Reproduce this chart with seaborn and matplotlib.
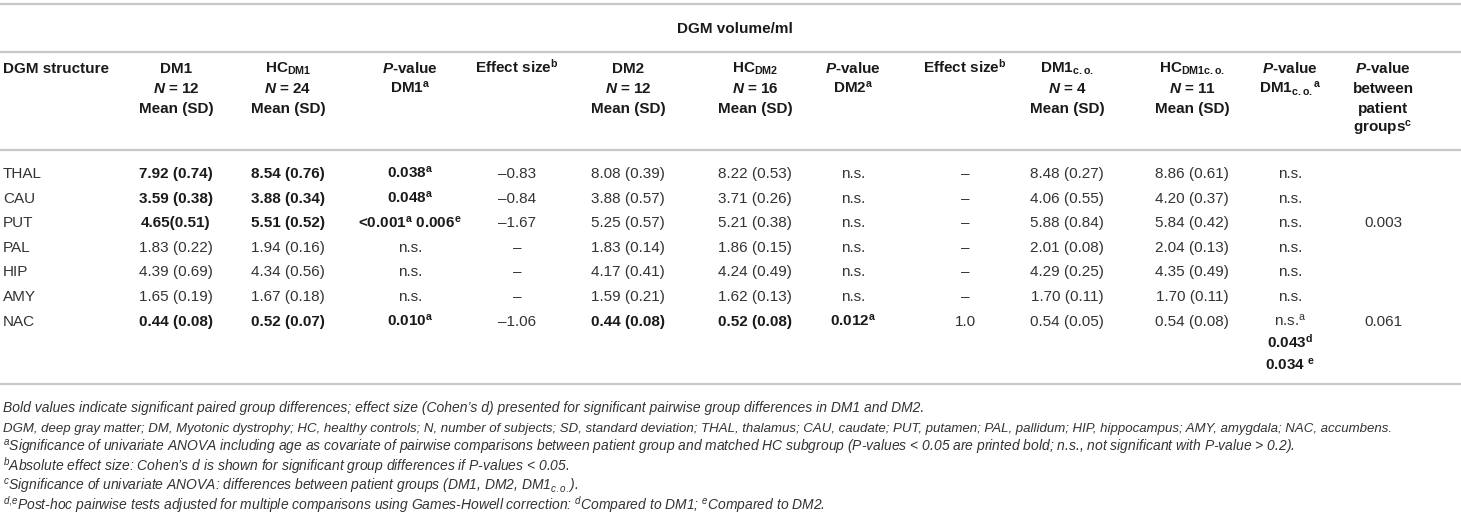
import re
import matplotlib
matplotlib.use("Agg")
import matplotlib.pyplot as plt
import seaborn as sns

# table values
structures = ["THAL", "CAU", "PUT", "PAL", "HIP", "AMY", "NAC"]

dm1_mean = [7.92, 3.59, 4.65, 1.83, 4.39, 1.65, 0.44]
dm1_sd = [0.74, 0.38, 0.51, 0.22, 0.69, 0.19, 0.08]
hc_dm1_mean = [8.54, 3.88, 5.51, 1.94, 4.34, 1.67, 0.52]
hc_dm1_sd = [0.76, 0.34, 0.52, 0.16, 0.56, 0.18, 0.07]
p_dm1 = ["0.038^{a}", "0.048^{a}", "<0.001^{a} 0.006^{e}", "n.s.", "n.s.", "n.s.", "0.010^{a}"]
effect_dm1 = [-0.83, -0.84, -1.67, None, None, None, -1.06]

dm2_mean = [8.08, 3.88, 5.25, 1.83, 4.17, 1.59, 0.44]
dm2_sd = [0.39, 0.57, 0.57, 0.14, 0.41, 0.21, 0.08]
hc_dm2_mean = [8.22, 3.71, 5.21, 1.86, 4.24, 1.62, 0.52]
hc_dm2_sd = [0.53, 0.26, 0.38, 0.15, 0.49, 0.13, 0.08]
p_dm2 = ["n.s.", "n.s.", "n.s.", "n.s.", "n.s.", "n.s.", "0.012^{a}"]
effect_dm2 = [None, None, None, None, None, None, 1.0]

dm1co_mean = [8.48, 4.06, 5.88, 2.01, 4.29, 1.70, 0.54]
dm1co_sd = [0.27, 0.55, 0.84, 0.08, 0.25, 0.11, 0.05]
hc_dm1co_mean = [8.86, 4.20, 5.84, 2.04, 4.35, 1.70, 0.54]
hc_dm1co_sd = [0.61, 0.37, 0.42, 0.13, 0.49, 0.11, 0.08]
p_dm1co = ["n.s.", "n.s.", "n.s.", "n.s.", "n.s.", "n.s.", "n.s.^{a}"]
p_dm1co_posthoc = ["0.043^{d}", "0.034 ^{e}"]
p_between = ["", "", "0.003", "", "", "", "0.061"]

bold_dm1 = [True, True, True, False, False, False, True]
bold_dm2 = [False, False, False, False, False, False, True]
no_space = {("dm1", 2)}  # "4.65(0.51)" as printed

headers = [
    ["DGM structure"],
    ["DM1", "*N* = 12", "Mean (SD)"],
    ["HC_{DM1}", "*N* = 24", "Mean (SD)"],
    ["*P*-value", "DM1^{a}"],
    ["Effect size^{b}"],
    ["DM2", "*N* = 12", "Mean (SD)"],
    ["HC_{DM2}", "*N* = 16", "Mean (SD)"],
    ["*P*-value", "DM2^{a}"],
    ["Effect size^{b}"],
    ["DM1_{c.o.}", "*N* = 4", "Mean (SD)"],
    ["HC_{DM1c.o.}", "*N* = 11", "Mean (SD)"],
    ["*P*-value", "DM1_{c.o.}^{a}"],
    ["*P*-value", "between", "patient", "groups^{c}"],
]

footnotes = [
    "Bold values indicate significant paired group differences; effect size (Cohen’s d) presented for significant pairwise group differences in DM1 and DM2.",
    "DGM, deep gray matter; DM, Myotonic dystrophy; HC, healthy controls; N, number of subjects; SD, standard deviation; THAL, thalamus; CAU, caudate; PUT, putamen; PAL, pallidum; HIP, hippocampus; AMY, amygdala; NAC, accumbens.",
    "^{a}Significance of univariate ANOVA including age as covariate of pairwise comparisons between patient group and matched HC subgroup (P-values < 0.05 are printed bold; n.s., not significant with P-value > 0.2).",
    "^{b}Absolute effect size: Cohen’s d is shown for significant group differences if P-values < 0.05.",
    "^{c}Significance of univariate ANOVA: differences between patient groups (DM1, DM2, DM1_{c.o.}).",
    "^{d,e}Post-hoc pairwise tests adjusted for multiple comparisons using Games-Howell correction: ^{d}Compared to DM1; ^{e}Compared to DM2.",
]
footnote_sizes = [10, 9.55, 10, 10, 10, 10]

sns.set_theme(style="white")
plt.rcParams["font.family"] = ["Liberation Sans", "DejaVu Sans"]
plt.rcParams["mathtext.fontset"] = "custom"
plt.rcParams["mathtext.rm"] = "Liberation Sans"
plt.rcParams["mathtext.it"] = "Liberation Sans:italic"
plt.rcParams["mathtext.bf"] = "Liberation Sans:bold"
plt.rcParams["mathtext.bfit"] = "Liberation Sans:italic:bold"


def mt(s, kind="rm"):
    s = re.sub(r"\*(\w+)\*", r"$\\mathbfit{\1}$", s)

    def script(m):
        body = m.group(2).replace(".", "{.}").replace(",", "{,}")
        return "$" + m.group(1) + "{\\math" + kind + "{" + body + "}}$"

    s = re.sub(r"([_^])\{([^}]*)\}", script, s)
    return s.replace("$$", "{}")


def fmt_ms(m, sd, tight=False):
    sep = "" if tight else " "
    return f"{m:.2f}{sep}({sd:.2f})"


def fmt_eff(v):
    return "–" if v is None else str(v).replace("-", "–")


fig = plt.figure(figsize=(14.61, 5.17), dpi=100)
ax = fig.add_axes([0, 0, 1, 1])
ax.set_xlim(0, 1461)
ax.set_ylim(517, 0)
ax.axis("off")

rule = dict(color="#c8c8c8", lw=1.6)
for yy in [4, 52, 150, 384]:
    ax.axhline(yy, **rule)

dark = "#1a1a1a"
reg = "#333333"
fs = 11

col_x = [3, 176, 288, 410, 517, 628, 755, 853, 965, 1067, 1192, 1290, 1383]

ax.text(735, 33, "DGM volume/ml", ha="center", va="baseline",
        fontsize=fs, fontweight="bold", color=dark)

for ci, lines in enumerate(headers):
    for li, line in enumerate(lines):
        ax.text(col_x[ci], 73 + 20 * li, mt(line, "bf"),
                ha="left" if ci == 0 else "center", va="baseline",
                fontsize=fs, fontweight="bold", color=dark)


def cell(ci, ri, text, bold=False, dy=0):
    y = 178 + 24.6 * ri + dy
    ax.text(col_x[ci], y, mt(text, "bf" if bold else "rm"),
            ha="left" if ci == 0 else "center", va="baseline", fontsize=fs,
            fontweight="bold" if bold else "normal",
            color=dark if bold else reg)


for ri, name in enumerate(structures):
    cell(0, ri, name)
    cell(1, ri, fmt_ms(dm1_mean[ri], dm1_sd[ri], ("dm1", ri) in no_space), bold_dm1[ri])
    cell(2, ri, fmt_ms(hc_dm1_mean[ri], hc_dm1_sd[ri]), bold_dm1[ri])
    cell(3, ri, p_dm1[ri], p_dm1[ri] != "n.s.")
    cell(4, ri, fmt_eff(effect_dm1[ri]))
    cell(5, ri, fmt_ms(dm2_mean[ri], dm2_sd[ri]), bold_dm2[ri])
    cell(6, ri, fmt_ms(hc_dm2_mean[ri], hc_dm2_sd[ri]), bold_dm2[ri])
    cell(7, ri, p_dm2[ri], p_dm2[ri] != "n.s.")
    cell(8, ri, fmt_eff(effect_dm2[ri]))
    cell(9, ri, fmt_ms(dm1co_mean[ri], dm1co_sd[ri]))
    cell(10, ri, fmt_ms(hc_dm1co_mean[ri], hc_dm1co_sd[ri]))
    cell(11, ri, p_dm1co[ri])
    cell(12, ri, p_between[ri])

last = len(structures) - 1
for k, txt in enumerate(p_dm1co_posthoc):
    cell(11, last, txt, True, dy=22 * (k + 1))

for k, note in enumerate(footnotes):
    ax.text(3, 412 + 19.6 * k, mt(note, "it"), ha="left", va="baseline",
            fontsize=footnote_sizes[k], style="italic", color=reg)

fig.savefig("out.png", dpi=100)
